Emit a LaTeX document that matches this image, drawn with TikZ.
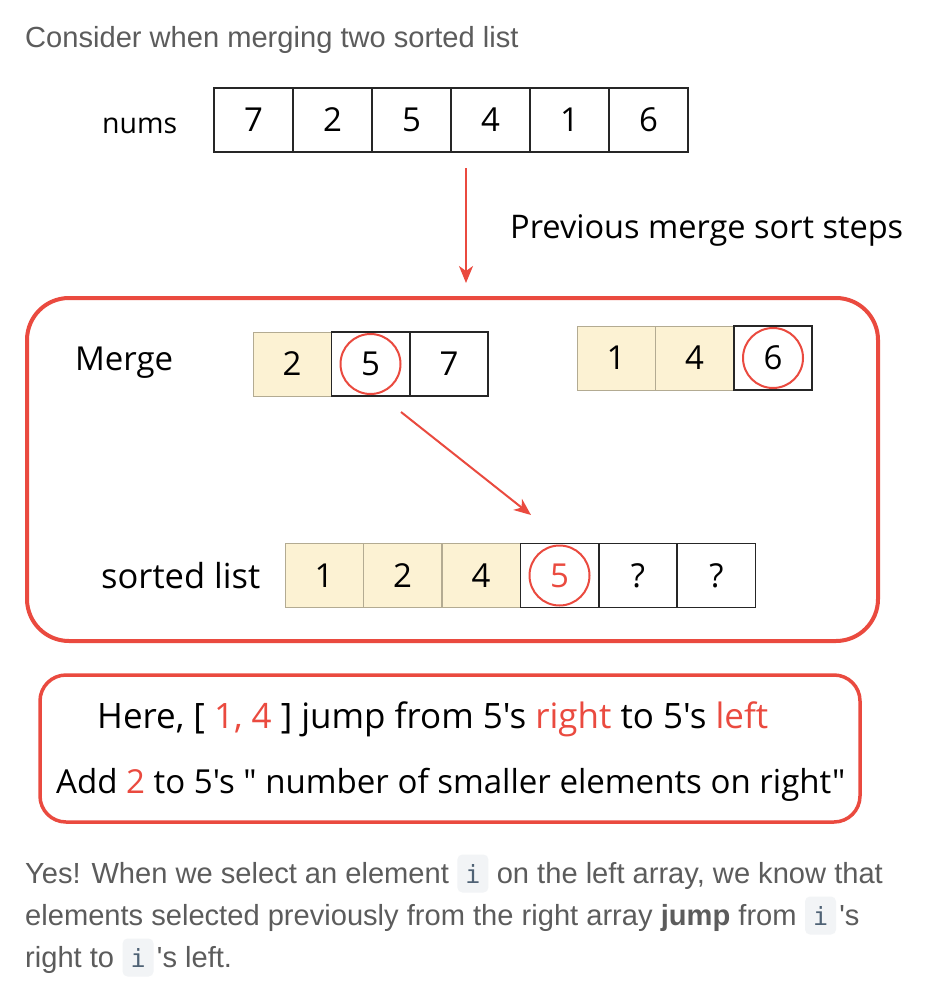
\documentclass[tikz,border=0pt]{standalone}
\usepackage{fontspec}
\setmainfont{Liberation Sans}[Ligatures=TeXOff]
\newfontfamily\hand{Open Sans}[Ligatures=TeXOff]
\setmonofont{DejaVu Sans Mono}
\usetikzlibrary{arrows.meta}
\definecolor{redc}{HTML}{EA4A3F}
\definecolor{graytxt}{HTML}{5C5C5C}
\definecolor{cellyel}{HTML}{FCF2D3}
\definecolor{cellyb}{HTML}{B3AB92}
\definecolor{chipbg}{HTML}{F2F4F6}
\definecolor{chiptxt}{HTML}{4F6275}
\begin{document}
\begin{tikzpicture}[x=1pt,y=-1pt,
  cellw/.style={draw=black!85, line width=1.3pt, fill=white, minimum width=78pt, minimum height=64pt, inner sep=0pt, font=\hand\fontsize{33}{33}\selectfont},
  celly/.style={cellw, draw=cellyb, line width=0.9pt, fill=cellyel},
  ring/.style={circle, draw=redc, line width=2pt, minimum size=60pt, inner sep=0pt},
  lbl/.style={inner sep=0pt, anchor=base west, font=\hand},
  para/.style={inner sep=0pt, anchor=base west, text=graytxt, font=\fontsize{29.1}{29.1}\selectfont},
  chip/.style={anchor=base west, fill=chipbg, rounded corners=5pt, text=chiptxt, minimum width=31pt, minimum height=38pt, inner sep=0pt, font=\ttfamily\fontsize{25}{25}\selectfont},
  redarr/.style={draw=redc, line width=2pt, -{Stealth[length=17pt, width=14pt, inset=5pt]}},
  bigbox/.style={draw=redc, line width=4pt, rounded corners=42pt},
  notebox/.style={draw=redc, line width=3.5pt, rounded corners=26pt}
]
\useasboundingbox (0,0) rectangle (936,1006);
\fill[white] (0,0) rectangle (936,1006);

% heading
\node[para] (head) at (25,48) {Consider when merging two sorted list};

% nums array
\node[lbl] (numsl) at (102,133) {\resizebox{75pt}{!}{nums}};
\foreach \v [count=\i] in {7,2,5,4,1,6}
  \node[cellw, minimum width=79pt] (n\i) at ({214+39.5+79*(\i-1)},120) {\v};

% arrow 1
\coordinate (a1s) at (466,168);
\coordinate (a1e) at (466,283);
\draw[redarr] (a1s) -- (a1e);
\node[lbl] (prev) at (510,238) {\resizebox{393pt}{!}{Previous merge sort steps}};

% big box
\draw[bigbox] (27,298) rectangle (878,641);
\node[lbl] (mergel) at (75,370) {\resizebox{98pt}{!}{Merge}};

% left array
\node[celly] (l1) at (292,364) {2};
\node[cellw] (l2) at (370.5,364) {5};
\node[cellw] (l3) at (449,364) {7};
\node[ring] (r1) at (l2.center) {};

% right array
\node[celly] (q1) at (616,358) {1};
\node[celly] (q2) at (694.5,358) {4};
\node[cellw] (q3) at (773,358) {6};
\node[ring] (r2) at (q3.center) {};

% arrow 2
\coordinate (a2s) at (401,412);
\coordinate (a2e) at (531,515);
\draw[redarr] (a2s) -- (a2e);

% sorted list
\node[lbl] (sortl) at (101,588) {\resizebox{159pt}{!}{sorted list}};
\node[celly] (s1) at (324,575.5) {1};
\node[celly] (s2) at (402.5,575.5) {2};
\node[celly] (s3) at (481,575.5) {4};
\node[cellw, text=redc] (s4) at (559.5,575.5) {5};
\node[cellw] (s5) at (638,575.5) {?};
\node[cellw] (s6) at (716.5,575.5) {?};
\node[ring] (r3) at (s4.center) {};

% note box
\draw[notebox] (40,675) rectangle (860,822);
\node[lbl] (noteA) at (97,728) {\resizebox{671pt}{!}{Here, [ \textcolor{redc}{1, 4} ] jump from 5's \textcolor{redc}{right} to 5's \textcolor{redc}{left}}};
\node[lbl] (noteB) at (56,793) {\resizebox{789pt}{!}{Add \textcolor{redc}{2} to 5's " number of smaller elements on right"}};

% paragraph
\node[para] (p1a) at (25,883) {Yes! When we select an element};
\node[chip] (p1b) at ([xshift=8pt]p1a.base east) {i};
\node[para] (p1c) at ([xshift=8pt]p1b.base east) {on the left array, we know that};

\node[para] (p2a) at (25,925) {elements selected previously from the right array \textbf{jump} from};
\node[chip] (p2b) at ([xshift=8pt]p2a.base east) {i};
\node[para] (p2c) at ([xshift=3pt]p2b.base east) {'s};

\node[para] (p3a) at (25,967) {right to};
\node[chip] (p3b) at ([xshift=8pt]p3a.base east) {i};
\node[para] (p3c) at ([xshift=3pt]p3b.base east) {'s left.};
\end{tikzpicture}
\end{document}
